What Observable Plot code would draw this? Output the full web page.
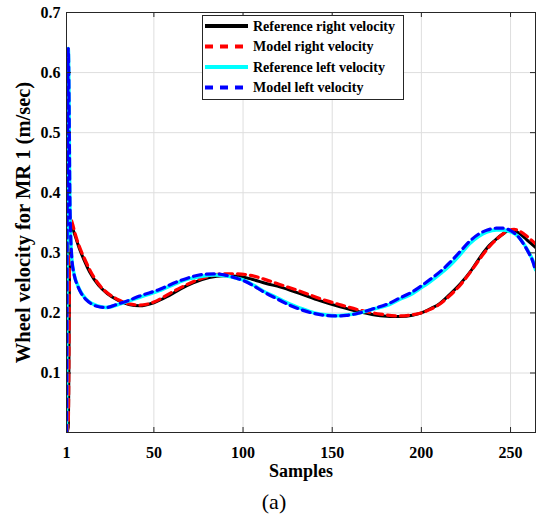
<!DOCTYPE html>
<html><head><meta charset="utf-8">
<script src="https://cdn.jsdelivr.net/npm/d3@7"></script>
<script src="https://cdn.jsdelivr.net/npm/@observablehq/plot@0.6"></script>
<style>body{margin:0;background:#fff;} #chart{width:537px;height:522px;}</style>
</head><body><div id="chart"></div>
<script>
// ---- data ----
const rightSamples = [1,2,3,4,6,8,11,14,19,24,30,36,42,50,58,65,72,81,89,97,105,113,121,132,143,154,165,177,188,195,200,205,210,216,222,228,233,238,242,246,249,252,255,259,264];
const refRight = [0,0.01,0.355,0.345,0.327,0.309,0.287,0.268,0.246,0.232,0.221,0.214,0.212,0.217,0.228,0.240,0.250,0.259,0.262,0.261,0.256,0.249,0.243,0.232,0.2205,0.2105,0.202,0.1955,0.194,0.196,0.2,0.207,0.215,0.231,0.249,0.271,0.293,0.312,0.323,0.332,0.337,0.337,0.332,0.322,0.309];
const modelRight = [0,0.02,0.36,0.352,0.33,0.312,0.291,0.272,0.248,0.233,0.222,0.215,0.213,0.218,0.231,0.242,0.252,0.261,0.265,0.265,0.262,0.255,0.247,0.236,0.224,0.214,0.205,0.198,0.195,0.197,0.2,0.206,0.214,0.229,0.247,0.27,0.291,0.31,0.322,0.332,0.337,0.339,0.336,0.328,0.315];
const leftSamples = [1,2,3,4,5,6,7,9,12,15,18,23,30,36,42,53,64,70,77,84,90,96,100,106,111,118,126,132,140,146,152,158,164,173,182,188,193,199,205,211,216,222,227,232,237,242,246,250,254,257,260,263,264];
const refLeft = [0,0.64,0.36,0.29,0.268,0.256,0.248,0.235,0.223,0.216,0.212,0.209,0.214,0.22,0.226,0.237,0.251,0.257,0.261,0.263,0.262,0.258,0.255,0.246,0.237,0.227,0.215,0.208,0.2,0.197,0.1955,0.1965,0.199,0.2065,0.214,0.223,0.229,0.24,0.252,0.266,0.279,0.298,0.315,0.327,0.335,0.338,0.338,0.335,0.328,0.317,0.302,0.283,0.272];
const modelLeft = [0,0.64,0.37,0.29,0.268,0.255,0.247,0.234,0.222,0.215,0.211,0.209,0.215,0.221,0.228,0.239,0.253,0.259,0.264,0.265,0.263,0.258,0.254,0.245,0.236,0.225,0.213,0.206,0.199,0.196,0.195,0.196,0.199,0.207,0.216,0.225,0.232,0.243,0.256,0.27,0.284,0.303,0.319,0.331,0.338,0.341,0.341,0.337,0.328,0.316,0.301,0.281,0.269];
const xTicks = [1,50,100,150,200,250];
const yTicks = [0.1,0.2,0.3,0.4,0.5,0.6,0.7];
const seriesNames = ["Reference right velocity","Model right velocity","Reference left velocity","Model left velocity"];
const seriesColors = ["#000000","#ff0000","#00ffff","#0000ff"];
const xLabel = "Samples";
const yLabel = "Wheel velocity for MR 1 (m/sec)";
const caption = "(a)";

// ---- build ----
const toRows = (xs, ys) => xs.map((x, i) => ({x, y: ys[i]}));
const series = [
  toRows(rightSamples, refRight),
  toRows(rightSamples, modelRight),
  toRows(leftSamples, refLeft),
  toRows(leftSamples, modelLeft)
];
const dashed = [false, true, false, true];
const widths = [3, 3.2, 3.5, 3.2];
const font = "'Liberation Serif','Times New Roman',serif";
const axisColor = "#262626";

const lineMarks = series.map((rows, i) => Plot.line(rows, {
  x: "x", y: "y", stroke: seriesColors[i], strokeWidth: widths[i],
  strokeDasharray: dashed[i] ? "8,5" : null, curve: "monotone-x", clip: true
}));

const chart = Plot.plot({
  width: 537, height: 522,
  marginLeft: 66, marginRight: 2, marginTop: 12, marginBottom: 90,
  style: {fontFamily: font, background: "#fff", color: "#000"},
  x: {domain: [1, 264]},
  y: {domain: [0.001, 0.7]},
  marks: [
    Plot.gridX(xTicks, {stroke: "#dedede", strokeOpacity: 1}),
    Plot.gridY(yTicks, {stroke: "#dedede", strokeOpacity: 1}),
    ...lineMarks,
    Plot.tickX(xTicks, {x: d => d, insetTop: 415, stroke: axisColor}),
    Plot.tickX(xTicks, {x: d => d, insetBottom: 415, stroke: axisColor}),
    Plot.tickY(yTicks, {y: d => d, insetRight: 464, stroke: axisColor}),
    Plot.tickY(yTicks, {y: d => d, insetLeft: 464, stroke: axisColor}),
    Plot.frame({stroke: axisColor}),
    Plot.axisX(xTicks, {tickSize: 0, tickPadding: 14, fontSize: 16, fontWeight: "bold", label: null}),
    Plot.axisY(yTicks, {tickSize: 0, tickPadding: 6, fontSize: 16, fontWeight: "bold", label: null, tickFormat: d3.format(".1f")}),
    Plot.text([xLabel], {text: d => d, frameAnchor: "bottom", dy: 44, fontSize: 18, fontWeight: "bold", fill: "#000"}),
    Plot.text([yLabel], {text: d => d, frameAnchor: "left", textAnchor: "middle", dx: -43, rotate: -90, fontSize: 20.5, fontWeight: "bold", fill: "#000"}),
    Plot.text([caption], {text: d => d, frameAnchor: "bottom", dx: -27, dy: 76, fontSize: 22, fill: "#000"})
  ]
});
document.getElementById("chart").appendChild(chart);

// legend
const svg = d3.select(chart);
const lg = svg.append("g").attr("font-family", font).attr("font-size", 14).attr("font-weight", "bold").attr("text-anchor", "start");
lg.append("rect").attr("x", 202.5).attr("y", 15.5).attr("width", 201).attr("height", 84)
  .attr("fill", "#fff").attr("stroke", axisColor);
seriesNames.forEach((name, i) => {
  const yy = 26 + i * 20.5;
  lg.append("line").attr("x1", 205).attr("x2", 248).attr("y1", yy).attr("y2", yy)
    .attr("stroke", seriesColors[i]).attr("stroke-width", 3.8)
    .attr("stroke-dasharray", dashed[i] ? "8,7" : null);
  lg.append("text").attr("x", 253).attr("y", yy).attr("dy", "0.35em").attr("text-anchor", "start").attr("fill", "#000").text(name);
});
</script>
</body></html>
